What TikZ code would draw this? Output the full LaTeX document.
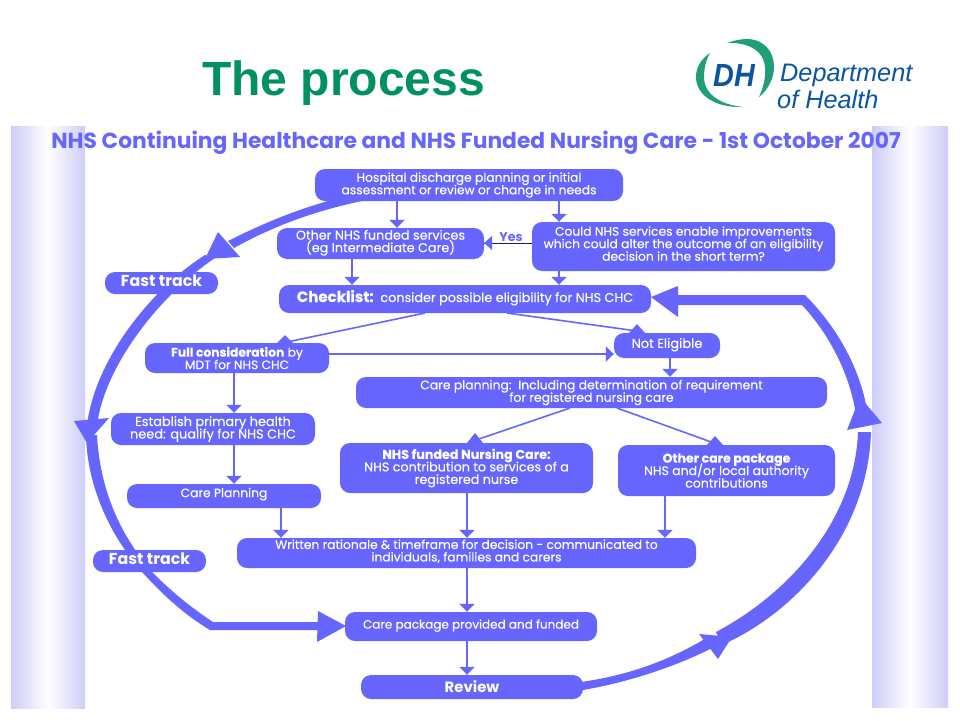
\documentclass[tikz,border=0pt]{standalone}
\usepackage{fontspec}
\setmainfont{Poppins}
\newfontfamily\medf{Poppins}[FakeBold=0.35]
\newfontfamily\arialf{Liberation Sans}
\usetikzlibrary{arrows.meta,calc}
\definecolor{nhs}{HTML}{6666FF}
\definecolor{band}{HTML}{CDCDF8}
\definecolor{dhgreen}{HTML}{00915F}
\definecolor{logogreen}{HTML}{1F9E78}
\definecolor{logoblue}{HTML}{0B559F}
\newcommand{\fs}[1]{\fontsize{#1}{12.5}\selectfont\lineskiplimit=-20pt\relax}
\tikzset{
  boxnode/.style={fill=nhs,text=white,rounded corners=10pt,inner sep=0pt,align=center,font=\medf\fs{12.3}},
  arr/.style={draw=nhs,line width=1.6pt,-{Triangle[width=15pt,length=8pt,fill=nhs]}},
  plainline/.style={draw=nhs,line width=1.6pt},
  apex/.style={fill=nhs,draw=none},
  loopfill/.style={fill=nhs,draw=none},
  sideband/.style={draw=none,left color=band,right color=band,middle color=white}
}
\begin{document}
\begin{tikzpicture}[x=1pt,y=-1pt]
\useasboundingbox (0,0) rectangle (960,720);
\fill[white] (0,0) rectangle (960,720);
% side bands
\shade[sideband] (11,126) rectangle (85,708);
\shade[sideband] (872,126) rectangle (948,707);
% title
\node[anchor=base west,inner sep=0pt,text=dhgreen,font=\arialf\bfseries\fontsize{48}{48}\selectfont] (title) at (202,95) {The process};
% logo
\fill[logogreen] (710,53) .. controls (700,60) and (696,68) .. (696,77) .. controls (696,95) and (715,108) .. (743,107) .. controls (722,105) and (704,95) .. (704,77) .. controls (704,68) and (706,60) .. (710,53) -- cycle;
\fill[logogreen] (727,43) .. controls (735,40) and (742,39) .. (748,39) .. controls (765,40) and (774,52) .. (774,67) .. controls (774,78) and (768,90) .. (759,97) .. controls (763,88) and (766,78) .. (765,67) .. controls (764,52) and (750,42) .. (727,43) -- cycle;
\node[anchor=base west,inner sep=0pt,text=logoblue,font=\arialf\bfseries\itshape\fontsize{32}{32}\selectfont] (dh) at (713,86) {\scalebox{0.9}[1]{DH}};
\node[anchor=base west,inner sep=0pt,text=logoblue,font=\arialf\itshape\fontsize{25.3}{25.3}\selectfont] (dep) at (780,81) {Department};
\node[anchor=base west,inner sep=0pt,text=logoblue,font=\arialf\itshape\fontsize{25.3}{25.3}\selectfont] (ofh) at (777,108) {of Health};
% heading
\node[inner sep=0pt,text=nhs,font=\bfseries\fontsize{21.8}{22}\selectfont] (head) at (476,142.5) {NHS Continuing Healthcare and NHS Funded Nursing Care - 1st October 2007};
% big loops
\fill[loopfill] (328,201) .. controls (290,212) and (260,225) .. (228,241) -- (234,248) .. controls (270,228) and (310,212) .. (362,201) -- cycle;
\fill[loopfill] (205,255) .. controls (150,290) and (95,360) .. (87,425) -- (97,425) .. controls (105,365) and (160,295) .. (215,258) -- cycle;
\fill[loopfill] (86,435) .. controls (87,480) and (105,530) .. (143,573) .. controls (165,597) and (185,615) .. (210,630) -- (320,630) -- (320,622) -- (213,622) .. controls (190,607) and (170,590) .. (153,573) .. controls (120,535) and (100,490) .. (97,435) -- cycle;
\fill[loopfill] (581,682) .. controls (630,675) and (670,660) .. (708,637) -- (716,646) .. controls (680,665) and (630,682) .. (583,690) -- cycle;
\fill[loopfill] (722,645) .. controls (800,610) and (868,530) .. (871,432) -- (858,432) .. controls (855,515) and (795,590) .. (716,632) -- cycle;
\fill[loopfill] (805,295) .. controls (835,325) and (864,370) .. (869,425) -- (856,415) .. controls (850,375) and (830,335) .. (802,305) -- (670,305) -- (670,295) -- cycle;
% big arrowheads
\fill[loopfill] (218,232) -- (240,257) -- (205,259) -- cycle;
\fill[loopfill] (74,421) -- (109,418) -- (87,443) -- cycle;
\fill[loopfill] (318,611) -- (317,642) -- (346,626) -- cycle;
\fill[loopfill] (699,634) -- (718,659) -- (732,637) -- cycle;
\fill[loopfill] (847,430) -- (882,423) -- (860,397) -- cycle;
\fill[loopfill] (678,286) -- (678,317) -- (651,297) -- cycle;
% boxes
\node[boxnode,minimum width=308pt,minimum height=32pt] (top) at (469,185) {Hospital discharge planning or initial\\assessment or review or change in needs};
\node[boxnode,minimum width=207pt,minimum height=31pt,font=\medf\fs{12.8},text depth=5pt] (oth) at (380.5,243.5) {Other NHS funded services\\(eg Intermediate Care)};
\node[boxnode,minimum width=303pt,minimum height=49pt,text depth=6pt] (could) at (683.5,246.5) {Could NHS services enable improvements\\which could alter the outcome of an eligibility\\decision in the short term?};
\node[boxnode,minimum width=372pt,minimum height=28pt,font=\medf\fs{12.8},text depth=6pt] (check) at (465,299) {{\bfseries\fontsize{15}{15}\selectfont Checklist:}\ \ consider possible eligibility for NHS CHC};
\node[boxnode,minimum width=184pt,minimum height=30pt] (full) at (237,358) {{\bfseries Full consideration} by\\MDT for NHS CHC};
\node[boxnode,minimum width=106pt,minimum height=25pt,font=\medf\fs{13},text depth=5pt] (note) at (667,345.5) {Not Eligible};
\node[boxnode,minimum width=471pt,minimum height=31pt,font=\medf\fs{12.4}] (cp) at (591.5,392.5) {Care planning:\ \ Including determination of requirement\\for registered nursing care};
\node[boxnode,minimum width=204pt,minimum height=32pt,font=\medf\fs{12.9}] (est) at (213,429) {Establish primary health\\need: qualify for NHS CHC};
\node[boxnode,minimum width=253pt,minimum height=50pt,font=\medf\fs{12.7}] (fund) at (466.5,468) {{\bfseries NHS funded Nursing Care:}\\NHS contribution to services of a\\registered nurse};
\node[boxnode,minimum width=217pt,minimum height=51pt,font=\medf\fs{12.5}] (othc) at (726.5,470.5) {{\bfseries Other care package}\\NHS and/or local authority\\contributions};
\node[boxnode,minimum width=194pt,minimum height=24pt,text depth=7pt] (cpl) at (224,496) {Care Planning};
\node[boxnode,minimum width=459pt,minimum height=30pt,text depth=5pt] (writ) at (466.5,553) {Written rationale \& timeframe for decision - communicated to\\individuals, families and carers};
\node[boxnode,minimum width=252pt,minimum height=29pt,font=\medf\fs{12},text depth=5pt] (pkg) at (471,626.5) {Care package provided and funded};
\node[boxnode,minimum width=222pt,minimum height=24pt,font=\bfseries\fontsize{14.9}{15}\selectfont] (rev) at (472,687) {Review};
\node[boxnode,minimum width=113pt,minimum height=22pt,font=\bfseries\fontsize{15.8}{16}\selectfont,text depth=5pt] (ft1) at (161.5,283) {Fast track};
\node[boxnode,minimum width=113pt,minimum height=22pt,font=\bfseries\fontsize{15.8}{16}\selectfont,text depth=5pt] (ft2) at (149.5,561) {Fast track};
\node[inner sep=0pt,text=nhs,font=\bfseries\fontsize{12.6}{13}\selectfont] (yes) at (511,237) {Yes};
% guide coordinates
\coordinate (xa) at (397,0);
\coordinate (xb) at (559,0);
\coordinate (xc) at (352,0);
\coordinate (xd) at (234,0);
\coordinate (xe) at (281,0);
\coordinate (xf) at (467,0);
\coordinate (xg) at (665,0);
\coordinate (xh) at (670,0);
\coordinate (ya) at (0,243);
\coordinate (yb) at (0,354);
% straight connectors
\draw[arr] (top.south -| xa) -- (oth.north -| xa);
\draw[arr] (top.south -| xb) -- (could.north -| xb);
\draw[arr] (oth.south -| xc) -- (check.north -| xc);
\draw[arr] (could.south -| xb) -- (check.north -| xb);
\draw[draw=black!70!nhs,line width=1pt] (could.west |- ya) -- (oth.east |- ya);
\fill[loopfill] (484,243) -- (492,236) -- (492,250) -- cycle;
\draw[arr] (full.east |- yb) -- (note.west |- yb);
\draw[arr] (full.south -| xd) -- (est.north -| xd);
\draw[arr] (est.south -| xd) -- (cpl.north -| xd);
\draw[arr] (cpl.south -| xe) -- (writ.north -| xe);
\draw[arr] (fund.south -| xf) -- (writ.north -| xf);
\draw[arr] (othc.south -| xg) -- (writ.north -| xg);
\draw[arr] (writ.south -| xf) -- (pkg.north -| xf);
\draw[arr] (pkg.south -| xf) -- (rev.north -| xf);
\draw[arr] (note.south -| xh) -- (cp.north -| xh);
% diagonal connectors with upright small heads
\coordinate (c1) at (425,313);
\coordinate (c2) at (507,313);
\coordinate (p1) at (570,408);
\coordinate (p2) at (617,408);
\draw[plainline] (c1) -- (287,342);
\draw[plainline] (c2) -- (637,331);
\draw[plainline] (p1) -- (476,440);
\draw[plainline] (p2) -- (714,443);
\fill[apex] (285,335) -- (277,343) -- (293,343) -- cycle;
\fill[apex] (637,324) -- (629,333) -- (645,333) -- cycle;
\fill[apex] (475,433) -- (467,443) -- (483,443) -- cycle;
\fill[apex] (715,436) -- (707,445) -- (723,445) -- cycle;
\end{tikzpicture}
\end{document}
